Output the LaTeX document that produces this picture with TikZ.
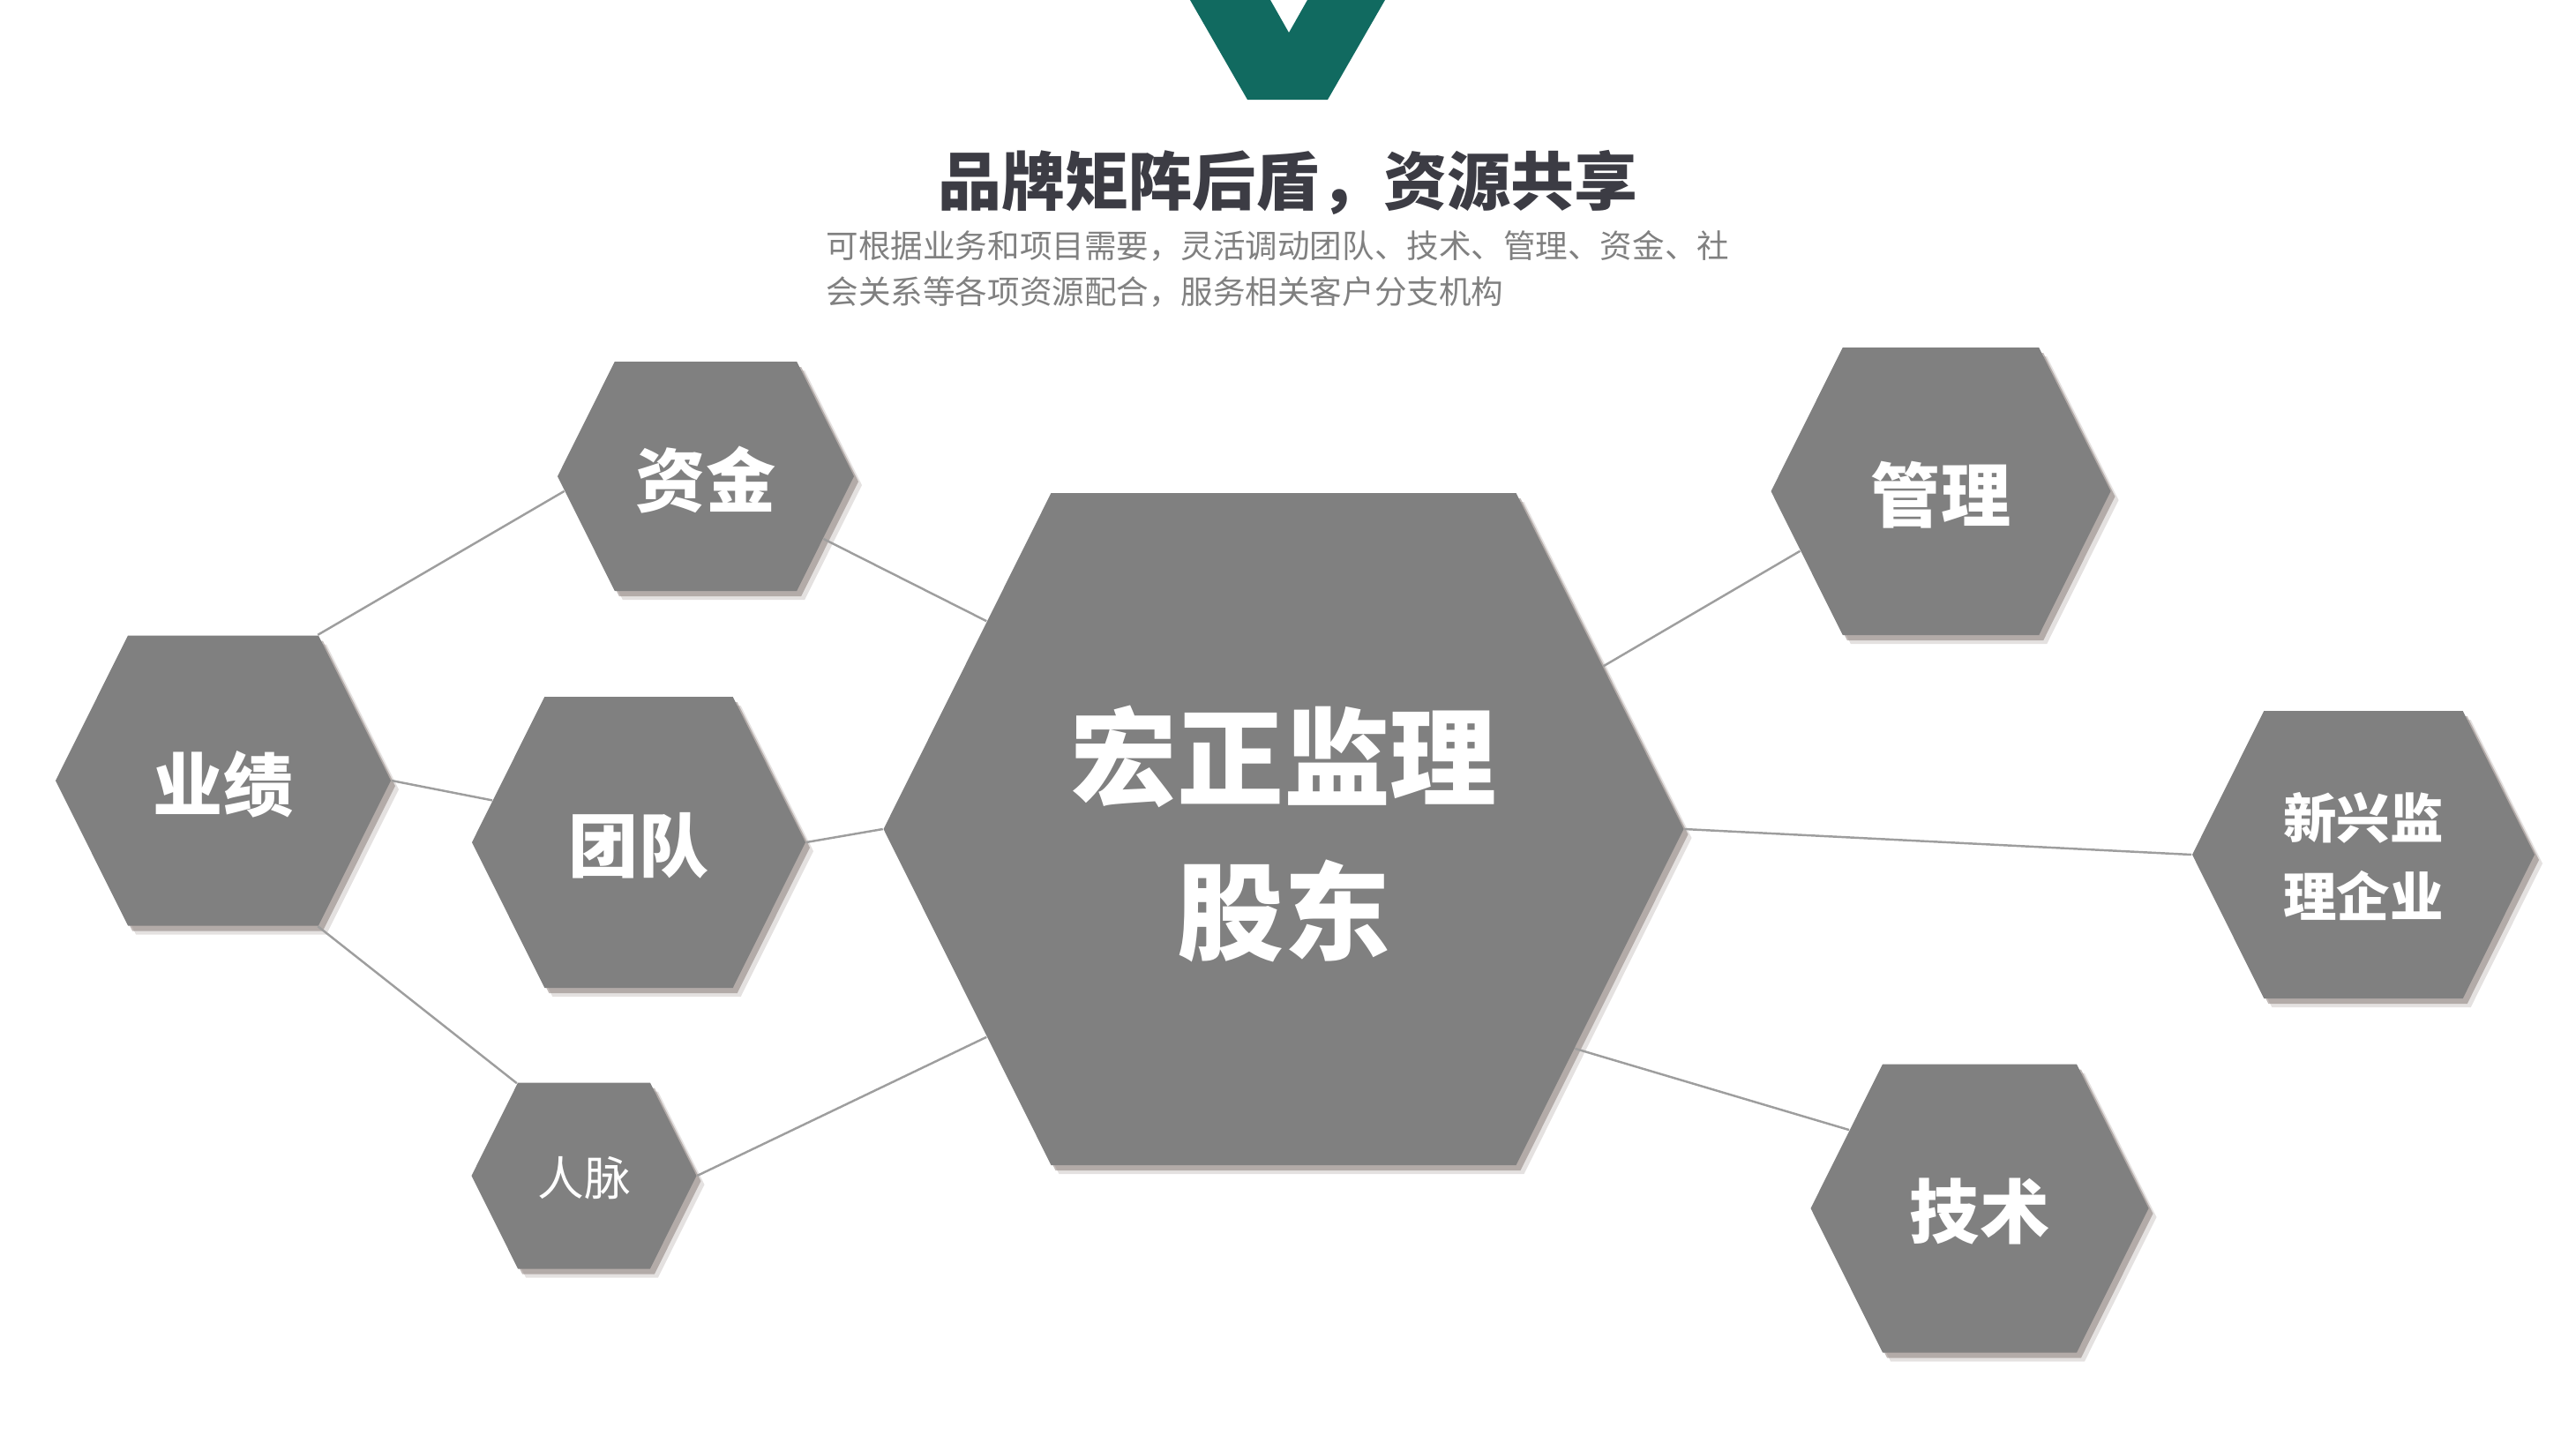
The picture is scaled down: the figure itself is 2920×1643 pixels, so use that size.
\documentclass[tikz,border=0pt]{standalone}
\usepackage{fontspec}
\setmainfont{Noto Sans CJK SC}
\usetikzlibrary{shapes.symbols,shadows}
\definecolor{hexgray}{RGB}{128,128,128}
\definecolor{linkgray}{RGB}{158,158,158}
\definecolor{titlegray}{RGB}{60,60,68}
\definecolor{subgray}{RGB}{128,128,128}
\definecolor{vgreen}{RGB}{17,106,96}
\definecolor{shadowbrown}{RGB}{120,105,100}
\begin{document}
\begin{tikzpicture}[x=0.1mm, y=-0.1mm,
    hexcell/.style={shape=signal, signal to=west and east, signal from=nowhere,
        signal pointer angle=127, fill=hexgray, text=white, inner sep=0pt, align=center, text depth=0pt,
        drop shadow={shadow xshift=0.5mm, shadow yshift=-0.6mm, fill=shadowbrown, opacity=0.45},
        drop shadow={shadow xshift=0.9mm, shadow yshift=-1.0mm, fill=shadowbrown, opacity=0.2}},
    link/.style={draw=linkgray, line width=0.7pt}]
    \useasboundingbox (0,0) rectangle (2920,1643);
    \fill[vgreen] (1349,0) -- (1414,113) -- (1505,113) -- (1570,0) -- (1482,0) -- (1461,37) -- (1440,0) -- cycle;
    \node[font=\bfseries\fontsize{20.5pt}{24pt}\selectfont, text=titlegray] (title) at (1460,207) {品牌矩阵后盾，资源共享};
    \node[anchor=west, align=left, inner sep=0pt, font=\fontsize{10.4pt}{14.6pt}\selectfont, text=subgray] (subtitle) at (936,305) {可根据业务和项目需要，灵活调动团队、技术、管理、资金、社\\会关系等各项资源配合，服务相关客户分支机构};
    % hexagons
    \node[hexcell, minimum width=90.7mm, minimum height=76.2mm, font=\bfseries\fontsize{34.4pt}{49.8pt}\selectfont] (gudong) at (1455,940) {宏正监理\\股东};
    \node[hexcell, minimum width=33.6mm, minimum height=26mm, font=\bfseries\fontsize{22.5pt}{27pt}\selectfont] (zijin) at (800,540) {资金};
    \node[hexcell, minimum width=38mm, minimum height=32.9mm, font=\bfseries\fontsize{22.5pt}{27pt}\selectfont] (yeji) at (253,885) {业绩};
    \node[hexcell, minimum width=37.8mm, minimum height=33mm, font=\bfseries\fontsize{22.5pt}{27pt}\selectfont] (tuandui) at (724,955) {团队};
    \node[hexcell, minimum width=25.5mm, minimum height=21.1mm, font=\fontsize{15pt}{18pt}\selectfont] (renmai) at (662,1333) {人脉};
    \node[hexcell, minimum width=38.5mm, minimum height=32.6mm, font=\bfseries\fontsize{22.5pt}{27pt}\selectfont] (guanli) at (2200,557) {管理};
    \node[hexcell, minimum width=38.8mm, minimum height=32.6mm, font=\bfseries\fontsize{17.2pt}{25.3pt}\selectfont] (xinxing) at (2679,969) {新兴监\\理企业};
    \node[hexcell, minimum width=38.3mm, minimum height=32.7mm, font=\bfseries\fontsize{22.5pt}{27pt}\selectfont] (jishu) at (2244,1370) {技术};
    % links
    \draw[link] (yeji.57) -- (zijin.186);
    \draw[link] (zijin.-28) -- (gudong.145);
    \draw[link] (yeji.east) -- (tuandui.164);
    \draw[link] (tuandui.east) -- (gudong.west);
    \draw[link] (yeji.-57) -- (renmai.126);
    \draw[link] (renmai.east) -- (gudong.215);
    \draw[link] (gudong.27) -- (guanli.203);
    \draw[link] (gudong.east) -- (xinxing.west);
    \draw[link] (gudong.-37) -- (jishu.149);
\end{tikzpicture}
\end{document}
